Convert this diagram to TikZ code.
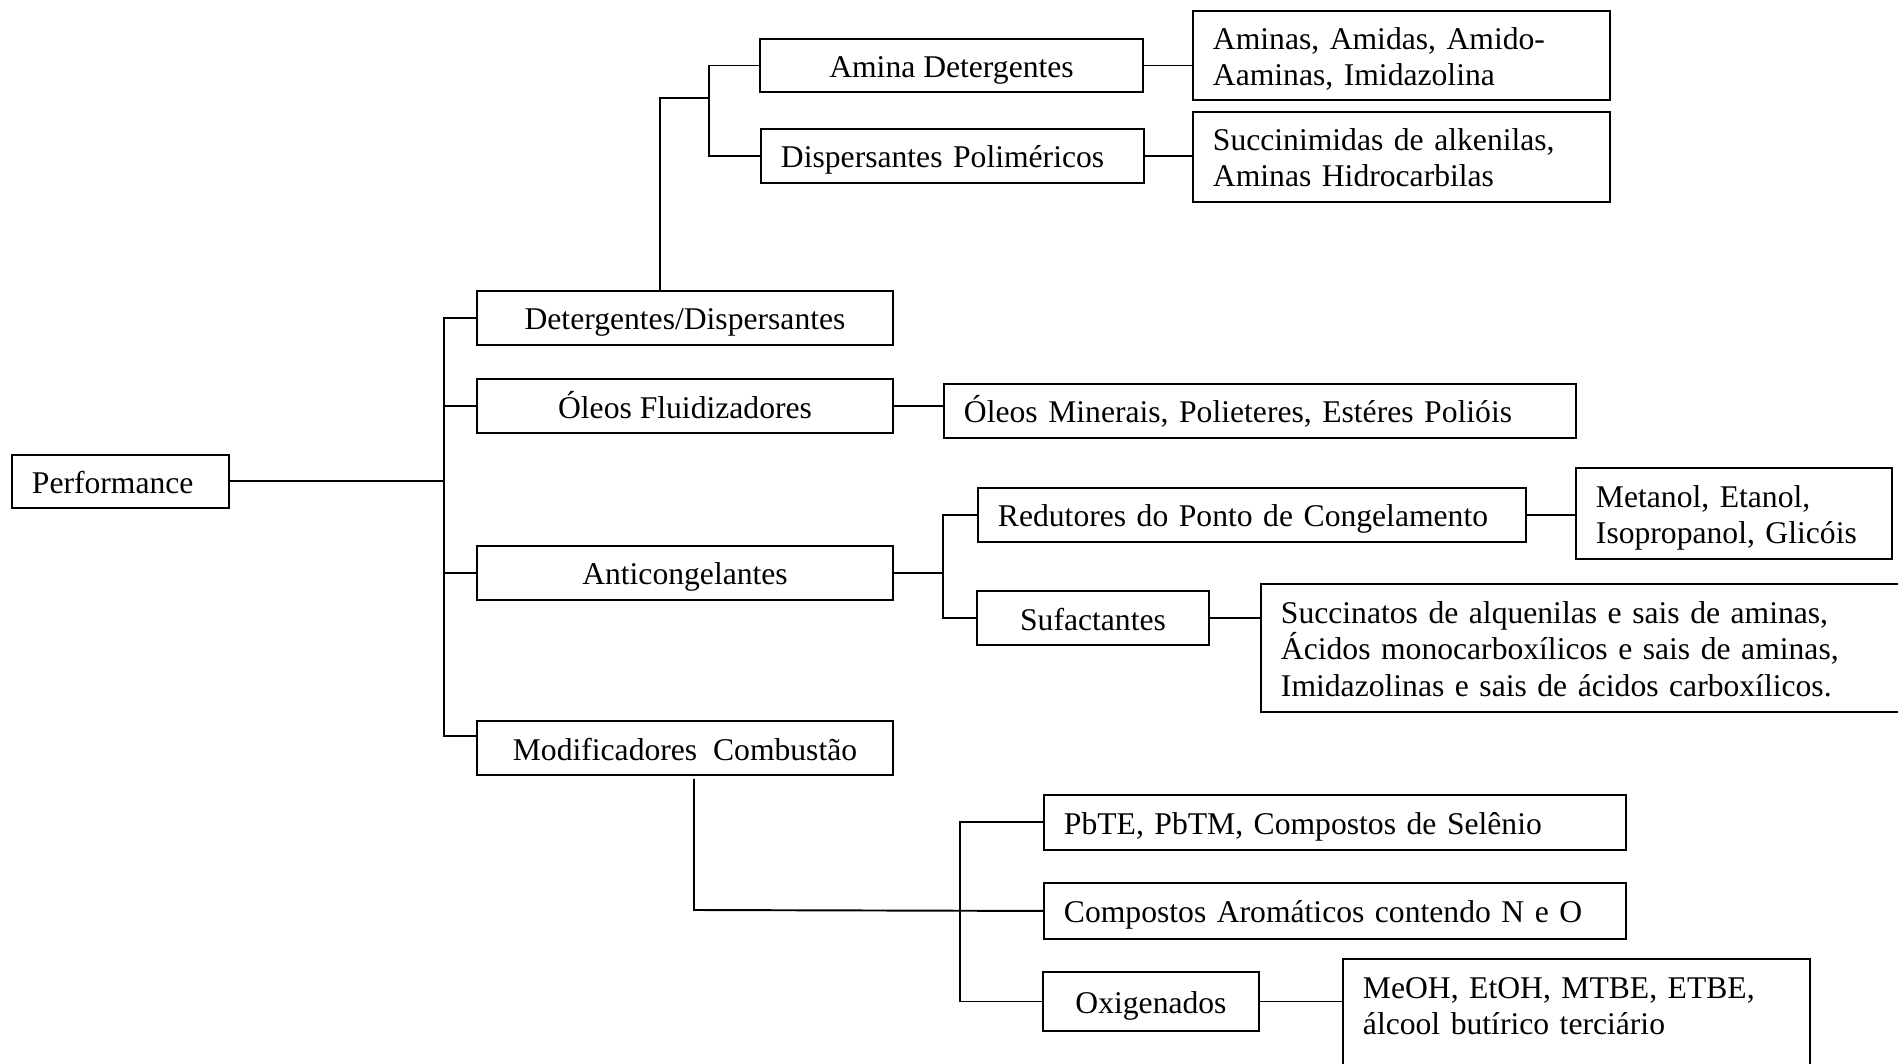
\documentclass[tikz,border=0pt]{standalone}
\usepackage{fontspec}
\setmainfont{Liberation Serif}
\newcommand{\alto}{\rule{0pt}{17pt}}
\newcommand{\baixo}{\rule[-3.3pt]{0pt}{3.3pt}}
\begin{document}
\begin{tikzpicture}[x=0.02cm,y=-0.02cm,line width=1.1pt,
  caixa/.style={draw,rectangle,inner sep=0pt,font=\fontsize{18}{20.5}\selectfont,
    execute at begin node=\alto,execute at end node=\baixo},
  nivel/.style={caixa,minimum width=8.32cm,minimum height=1.08cm},
  lista/.style={caixa,anchor=north west,align=left,inner xsep=0.4cm,text width=#1}]
\useasboundingbox (0,0) rectangle (1898,1064);
\clip (0,0) rectangle (1898,1064);
\node[lista=3.54cm,minimum height=1.06cm] (perf) at (11,454) {Performance};
\node[nivel] (deterg) at (685,318) {Detergentes/Dispersantes};
\node[nivel] (oleos) at (685,406) {Óleos Fluidizadores};
\node[nivel] (antic) at (685,573) {Anticongelantes};
\node[nivel] (modif) at (685,748) {Modificadores\ \ Combustão};
\node[caixa,minimum width=7.66cm,minimum height=1.06cm] (amina) at (951.5,65.5) {Amina Detergentes};
\node[lista=6.86cm,minimum height=1.08cm] (disper) at (760,128) {Dispersantes Poliméricos};
\node[lista=7.54cm,minimum height=1.78cm] (aminas) at (1192,10) {Aminas, Amidas, Amido-\\Aaminas, Imidazolina};
\node[lista=7.54cm,minimum height=1.80cm] (succi) at (1192,111) {Succinimidas de alkenilas,\\Aminas Hidrocarbilas};
\node[lista=11.84cm,minimum height=1.08cm] (oleomin) at (943,383) {Óleos Minerais, Polieteres, Estéres Polióis};
\node[lista=10.16cm,minimum height=1.08cm] (redut) at (977,487) {Redutores do Ponto de Congelamento};
\node[caixa,minimum width=4.64cm,minimum height=1.08cm] (sufac) at (1093,618) {Sufactantes};
\node[lista=5.52cm,minimum height=1.82cm] (metanol) at (1575,467) {Metanol, Etanol,\\Isopropanol, Glicóis};
\node[lista=12.4cm,minimum height=2.56cm] (succin) at (1260,583) {Succinatos de alquenilas e sais de aminas,\\Ácidos monocarboxílicos e sais de aminas,\\Imidazolinas e sais de ácidos carboxílicos.};
\node[lista=10.84cm,minimum height=1.10cm] (pbte) at (1043,794) {PbTE, PbTM, Compostos de Selênio};
\node[lista=10.84cm,minimum height=1.12cm] (arom) at (1043,882) {Compostos Aromáticos contendo N e O};
\node[caixa,minimum width=4.32cm,minimum height=1.18cm] (oxig) at (1151,1001.5) {Oxigenados};
\node[lista=8.54cm,minimum height=2.56cm] (meoh) at (1342,958) {MeOH, EtOH, MTBE, ETBE,\\álcool butírico terciário\\ \mbox{}};
\coordinate (raiz) at (444,318);
\coordinate (raizb) at (444,736);
\draw (perf.east) -- (perf.east -| raiz);
\draw (deterg.west) -- (raiz) -- (raizb) -- (raizb -| modif.west);
\draw (oleos.west) -- (oleos.west -| raiz);
\draw (antic.west) -- (antic.west -| raiz);
\coordinate (j1) at (660,98);
\coordinate (j2) at (709,98);
\draw (deterg.north -| j1) -- (j1) -- (j2);
\draw (amina.west) -| (j2) |- (disper.west);
\draw (amina.east) -- (amina.east -| aminas.west);
\draw (disper.east) -- (disper.east -| succi.west);
\draw (oleos.east) -- (oleos.east -| oleomin.west);
\coordinate (j3) at (943,573);
\draw (antic.east) -- (j3);
\draw (redut.west) -| (j3) |- (sufac.west);
\draw (redut.east) -- (redut.east -| metanol.west);
\draw (sufac.east) -- (sufac.east -| succin.west);
\coordinate (j4) at (694,910);
\coordinate (j5) at (960,910);
\draw[shorten <=0.06cm] (modif.south -| j4) -- (j4) -- (arom.west);
\draw (pbte.west) -| (j5) |- (oxig.west);
\draw (oxig.east) -- (oxig.east -| meoh.west);
\end{tikzpicture}
\end{document}
